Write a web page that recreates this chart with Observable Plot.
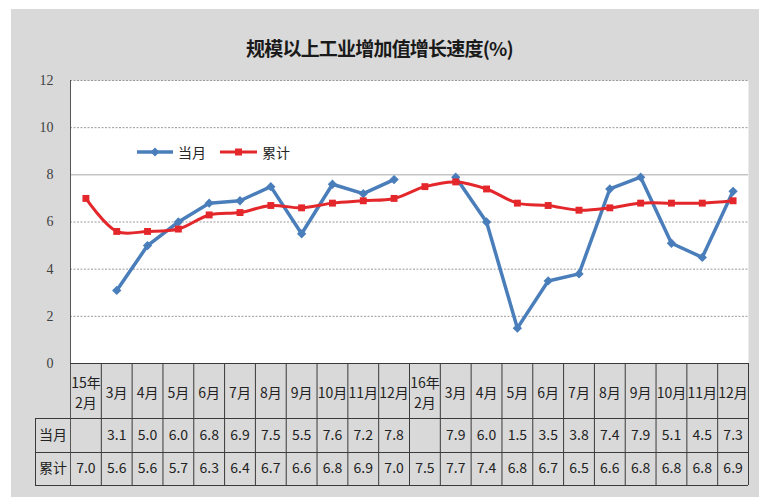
<!DOCTYPE html>
<html><head><meta charset="utf-8">
<script src="https://cdn.jsdelivr.net/npm/d3@7"></script>
<script src="https://cdn.jsdelivr.net/npm/@observablehq/plot@0.6"></script>
<style>
body{margin:0;background:#fff;width:759px;height:497px;position:relative;overflow:hidden;font-family:"Noto Sans CJK SC",sans-serif}
#bg{position:absolute;left:11px;top:9px;width:748px;height:488px;background:#d9d9d9}
#title{position:absolute;left:0;width:759px;top:36px;text-align:center;font-size:19px;line-height:24px;font-weight:bold;color:#1a1a1a;letter-spacing:-0.8px}
#chart{position:absolute;left:0;top:0}
.lg{position:absolute;top:142px;font-size:14px;line-height:20px;color:#262626;display:flex;align-items:center}
.lg svg{margin-right:4px}
</style></head>
<body>
<div id="bg"></div>
<div id="title">规模以上工业增加值增长速度(%)</div>
<div id="chart"></div>
<div class="lg" style="left:137px"><svg width="37" height="12"><line x1="0" y1="6" x2="36" y2="6" stroke="#4a7ebb" stroke-width="3.5"/><path d="M18,1.5L22.5,6L18,10.5L13.5,6Z" fill="#4a7ebb"/></svg>当月</div>
<div class="lg" style="left:220px"><svg width="38" height="12"><line x1="0" y1="6" x2="37" y2="6" stroke="#e3272b" stroke-width="3"/><rect x="15" y="2.5" width="7" height="7" fill="#e3272b"/></svg>累计</div>
<script>
const categories = ["15年\n2月","3月","4月","5月","6月","7月","8月","9月","10月","11月","12月",
                    "16年\n2月","3月","4月","5月","6月","7月","8月","9月","10月","11月","12月"];
const monthly = [null,3.1,5.0,6.0,6.8,6.9,7.5,5.5,7.6,7.2,7.8,
                 null,7.9,6.0,1.5,3.5,3.8,7.4,7.9,5.1,4.5,7.3];
const cumulative = [7.0,5.6,5.6,5.7,6.3,6.4,6.7,6.6,6.8,6.9,7.0,
                    7.5,7.7,7.4,6.8,6.7,6.5,6.6,6.8,6.8,6.8,6.9];
const rowLabels = ["当月","累计"];
const yTicks = [0,2,4,6,8,10,12];

const rows = categories.map((c,i)=>({i, label:c, monthly: monthly[i], cumulative: cumulative[i]}));
const n = categories.length;
const fmt = v => v == null ? "" : d3.format(".1f")(v);
const bounds = d3.range(n+1).map(k => k - 0.5);
const lineColor = "#3a3a3a";
const blue = "#4a7ebb", red = "#e3272b";
const tableFont = "Noto Sans CJK SC";
const rowOffsets = [55, 89, 122];

const chart = Plot.plot({
  width: 759, height: 497,
  marginLeft: 70, marginRight: 11, marginTop: 80, marginBottom: 134,
  style: {background: "transparent", overflow: "visible"},
  x: {type: "linear", domain: [-0.5, n - 0.5], axis: null},
  y: {domain: [0, 12], axis: null},
  marks: [
    Plot.frame({fill: "white", stroke: null}),
    Plot.ruleY(yTicks.filter(t => t > 0 && t !== 8), {stroke: "#9a9a9a", strokeDasharray: "2,1.5"}),
    Plot.ruleY([8], {stroke: "#a8a8a8"}),
    Plot.axisY({ticks: yTicks, tickSize: 0, tickPadding: 17, fontSize: 14, fontFamily: "Liberation Serif", color: "#404040"}),
    // table grid
    Plot.ruleX(bounds.slice(1), {x: d => d, y1: () => 0, y2: () => 0, insetBottom: -122, stroke: lineColor}),
    Plot.ruleX([-0.5], {x: d => d, y1: () => 12, y2: () => 0, insetBottom: -122, stroke: "#555"}),
    Plot.ruleX([-0.5], {x: d => d, y1: () => 0, y2: () => 0, dx: -35, insetTop: 55, insetBottom: -122, stroke: lineColor}),
    Plot.ruleY([0], {y: d => d, x1: () => -0.5, x2: () => n - 0.5, stroke: lineColor}),
    ...rowOffsets.map(off => Plot.ruleY([0], {y: d => d, dy: off, x1: () => -0.5, x2: () => n - 0.5, insetLeft: -35, stroke: lineColor})),
    // table text
    Plot.text(rows, {x: "i", y: () => 0, dy: 28, text: "label", fontSize: 14, lineHeight: 1.4, fill: "#222", fontFamily: tableFont}),
    Plot.text(rows, {x: "i", y: () => 0, dy: 72, text: d => fmt(d.monthly), fontSize: 14, fill: "#222", fontFamily: tableFont}),
    Plot.text(rows, {x: "i", y: () => 0, dy: 105, text: d => fmt(d.cumulative), fontSize: 14, fill: "#222", fontFamily: tableFont}),
    Plot.text([rowLabels[0]], {x: () => -0.5, dx: -17.5, y: () => 0, dy: 72, text: d => d, fontSize: 14, fill: "#222", fontFamily: tableFont}),
    Plot.text([rowLabels[1]], {x: () => -0.5, dx: -17.5, y: () => 0, dy: 105, text: d => d, fontSize: 14, fill: "#222", fontFamily: tableFont}),
    // series
    Plot.line(rows, {x: "i", y: "monthly", stroke: blue, strokeWidth: 3.5}),
    Plot.dot(rows.filter(d => d.monthly != null), {x: "i", y: "monthly", symbol: "diamond2", fill: blue, stroke: null, r: 4.2}),
    Plot.line(rows, {x: "i", y: "cumulative", stroke: red, strokeWidth: 3, curve: "catmull-rom"}),
    Plot.dot(rows, {x: "i", y: "cumulative", symbol: "square", fill: red, stroke: null, r: 3.9})
  ]
});
document.getElementById("chart").appendChild(chart);
</script>
</body></html>
